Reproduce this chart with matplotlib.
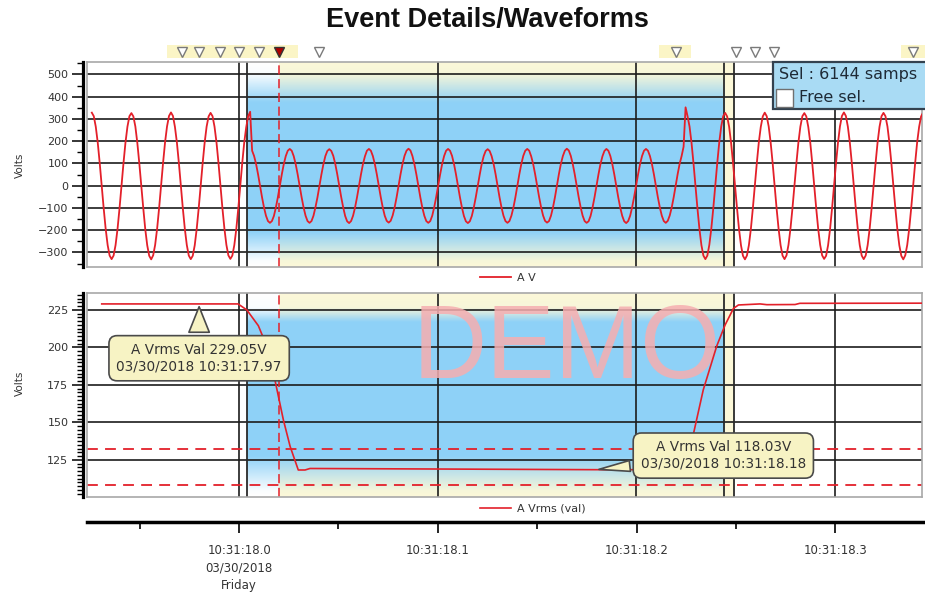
import numpy as np
import matplotlib.pyplot as plt
from matplotlib.patches import Rectangle
from matplotlib.ticker import MultipleLocator
from matplotlib.transforms import blended_transform_factory

# times are ms after 10:31:18.000, one row per cycle of the A phase
wave_start = -74.1
wave_step = 0.996
wave_v = [
    328, 312, 265, 193, 101, 0, -102, -194, -267, -314, -330, -314, -267, -194, -102, 1, 101, 193, 265, 312,
    326, 311, 266, 192, 100, -1, -101, -195, -268, -315, -331, -313, -266, -193, -101, 0, 102, 194, 266, 313,
    329, 313, 264, 193, 101, 0, -103, -194, -267, -314, -330, -315, -268, -194, -102, -1, 100, 192, 265, 311,
    327, 312, 265, 194, 102, 1, -102, -193, -266, -313, -329, -314, -267, -195, -103, 0, 101, 193, 262, 312,
    332, 157, 133, 97, 51, 0, -52, -98, -135, -159, -167, -159, -136, -98, -52, 0, 51, 97, 133, 157,
    165, 157, 133, 97, 51, 0, -52, -98, -135, -159, -167, -159, -135, -97, -53, 0, 50, 96, 133, 156,
    164, 156, 134, 98, 52, 1, -51, -97, -136, -160, -168, -159, -135, -98, -52, 0, 51, 97, 132, 157,
    165, 157, 133, 97, 51, 0, -52, -98, -135, -158, -166, -158, -134, -98, -52, 1, 52, 98, 134, 157,
    166, 158, 133, 96, 50, -1, -53, -99, -135, -159, -167, -159, -135, -97, -51, 0, 51, 97, 133, 157,
    165, 157, 134, 97, 51, 0, -52, -98, -136, -160, -168, -160, -136, -98, -52, 0, 50, 97, 133, 156,
    164, 156, 133, 98, 52, 0, -52, -98, -135, -159, -167, -159, -135, -99, -53, 0, 51, 97, 134, 157,
    165, 157, 132, 97, 51, 0, -51, -97, -134, -158, -166, -159, -135, -98, -52, 1, 52, 98, 133, 157,
    166, 158, 134, 97, 51, 0, -52, -98, -135, -159, -167, -160, -136, -98, -52, 0, 51, 97, 132, 156,
    165, 157, 133, 96, 50, -1, -53, -99, -136, -160, -168, -159, -135, -97, -51, 0, 51, 97, 133, 157,
    165, 157, 133, 97, 51, 0, -52, -98, -135, -159, -167, -158, -134, -98, -52, 0, 52, 98, 133, 175,
    352, 312, 266, 193, 101, 0, -102, -194, -267, -314, -330, -314, -266, -193, -102, 0, 101, 193, 265, 312,
    327, 311, 265, 192, 100, -1, -102, -195, -268, -315, -331, -314, -267, -194, -101, 0, 102, 194, 264, 311,
    328, 312, 266, 193, 101, 0, -103, -194, -267, -314, -330, -313, -266, -193, -102, 1, 101, 193, 265, 312,
    326, 311, 264, 194, 102, 1, -101, -193, -266, -313, -329, -315, -268, -195, -103, 0, 100, 192, 266, 313,
    329, 313, 265, 193, 101, 0, -102, -194, -267, -314, -330, -314, -267, -194, -102, 0, 101, 193, 265, 312,
    327, 312, 266, 192, 100, -1, -102, -195, -268, -315, -331, -313, -266, -193, -101, 0, 102, 194, 264, 311,
    328,
]

vrms_t = [-69.1, -0.5, 3.9, 9.7, 13.9, 18.1, 22.3, 25.7, 29.8, 33.2, 35.7, 179.7,
          223.5, 228.6, 233.6, 240.4, 244.6, 248.8, 251.3, 262.2, 265.6, 279.8, 282.2, 343.6]
vrms_v = [229.0, 229.0, 225.0, 214.5, 201.0, 178.0, 151.7, 134.0, 118.3, 118.3, 119.3, 118.5,
          118.5, 142.0, 171.7, 201.0, 215.0, 226.0, 228.3, 229.0, 228.5, 228.6, 229.4, 229.5]
limits_v = [132.5, 108.0]

tick_t = [0, 100, 200, 300]
tick_labels = ["10:31:18.0\n03/30/2018\nFriday", "10:31:18.1", "10:31:18.2", "10:31:18.3"]

event_t = [-28.8, -20.0, -9.6, -0.2, 10.2, 40.4, 219.8, 250.0, 259.7, 269.2, 339.1]
event_active = 20.3
event_bands = [(-36.2, 29.7), (211.5, 227.5), (333.0, 346.0)]

cursor_t = [3.9, 244.2, 249.1]
sel_t = (3.9, 244.2)
marked_t = (20.3, 249.1)

callout_pts = [(-20.1, 229.0), (179.7, 118.5)]
callout_text = ["A Vrms Val 229.05V\n03/30/2018 10:31:17.97",
                "A Vrms Val 118.03V\n03/30/2018 10:31:18.18"]

XL = (-76.5, 343.7)
RED = '#e3202a'
BLUE = (0.56, 0.82, 0.97)
CREAM = '#fcf8d8'
FRAME = '#a8a8a8'


def style_axes(ax, ylim, major, minor, fade):
    ax.axvspan(*marked_t, color=CREAM, lw=0, zorder=0.1)
    # selection shading fades out at top and bottom
    pos = np.linspace(0, 1, 300)
    img = np.zeros((300, 1, 4))
    img[..., :3] = BLUE
    img[:, 0, 3] = np.interp(pos, fade, [0, 0.05, 1, 1, 0.05, 0])
    ax.imshow(img, extent=(sel_t[0], sel_t[1], ylim[0], ylim[1]), origin='lower',
              aspect='auto', zorder=0.2, interpolation='bilinear')
    for t in cursor_t:
        ax.axvline(t, color='#2a2a2a', lw=1.3, zorder=1)
    ax.axvline(event_active, color=RED, lw=1.1, ls=(0, (6, 3)), zorder=1)

    ax.set_xlim(*XL)
    ax.set_ylim(*ylim)
    ax.set_xticks(tick_t)
    ax.set_xticklabels([])
    ax.tick_params(axis='x', length=0)
    ax.yaxis.set_major_locator(MultipleLocator(major))
    ax.yaxis.set_minor_locator(MultipleLocator(minor))
    ax.grid(True, color='#1c1c1c', lw=1.2)
    ax.set_axisbelow(True)
    for s in ['top', 'right', 'bottom']:
        ax.spines[s].set_color(FRAME)
        ax.spines[s].set_linewidth(1.2)
    ax.spines['left'].set_position(('outward', 2.7))
    ax.spines['left'].set_linewidth(2.3)
    ax.plot([0, 0], [0, 1], transform=ax.transAxes, color=FRAME, lw=1.2, clip_on=False)
    ax.tick_params(axis='y', which='major', length=7.7, width=1.1, pad=3,
                   labelsize=8, labelcolor='#333333')
    ax.tick_params(axis='y', which='minor', length=4, width=1.0)


def main():
    fig = plt.figure(figsize=(9.25, 5.92), dpi=100)
    ax1 = fig.add_axes([0.0941, 0.5495, 0.9027, 0.3463])
    ax2 = fig.add_axes([0.0941, 0.1610, 0.9027, 0.3436])

    style_axes(ax1, (-364, 557), 100, 50, [0, 0.03, 0.17, 0.80, 0.94, 1.0])
    style_axes(ax2, (100.5, 236.1), 25, 2.5, [0, 0.03, 0.2, 0.86, 0.93, 1.0])

    wave_t = wave_start + wave_step * np.arange(len(wave_v))
    ax1.plot(wave_t, wave_v, color=RED, lw=1.3, zorder=3, label='A V')
    ax2.plot(vrms_t, vrms_v, color=RED, lw=1.2, zorder=3, label='A Vrms (val)')
    for v in limits_v:
        ax2.axhline(v, color=RED, lw=1.3, ls=(0, (6, 4)), zorder=1.5)

    ax2.text(164.6, 179.5, 'DEMO', fontsize=74, family='Liberation Sans', color='#f6aeb0',
             alpha=0.85, ha='center', va='baseline', zorder=2)

    for (t, v), txt, pos, tw in zip(callout_pts, callout_text,
                                    [(-20.1, 192.8), (243.7, 127.9)], [1.5, 0.8]):
        ax2.annotate(txt, xy=(t, v), xytext=pos, ha='center', va='center',
                     fontsize=9.8, color='#333333', zorder=5,
                     bbox=dict(boxstyle='round,pad=0.55,rounding_size=0.6',
                               fc='#f7f3c4', ec='#4a4a4a', lw=1.2),
                     arrowprops=dict(arrowstyle='wedge,tail_width=%s,shrink_factor=0.5' % tw,
                                     fc='#f7f3c4', ec='#4a4a4a', lw=1.2))

    for ax, y in [(ax1, -0.055), (ax2, -0.0605)]:
        ax.legend(loc='center left', bbox_to_anchor=(0.4707, y), frameon=False, fontsize=8,
                  handlelength=2.8, handletextpad=0.5, borderpad=0, borderaxespad=0,
                  labelcolor='#333333')

    # event markers above the waveform
    trans = blended_transform_factory(ax1.transData, ax1.transAxes)
    for a, b in event_bands:
        ax1.add_patch(Rectangle((a, 1.018), b - a, 0.063, transform=trans, color='#fbf5c6',
                                lw=0, clip_on=False))
    ax1.plot(event_t, np.full(len(event_t), 1.049), 'v', transform=trans, ms=7, mfc='white',
             mec='#7a7a7a', mew=1, clip_on=False)
    ax1.plot([event_active], [1.049], 'v', transform=trans, ms=7, mfc='#b00000', mec='#333333',
             mew=1, clip_on=False)

    # time axis
    ax3 = fig.add_axes([0.0941, 0.1182, 0.906, 0.0001])
    ax3.set_xlim(-76.5, 345.2)
    ax3.set_yticks([])
    for s in ['top', 'left', 'right']:
        ax3.spines[s].set_visible(False)
    ax3.spines['bottom'].set_linewidth(2.5)
    ax3.set_xticks(tick_t)
    ax3.set_xticklabels(tick_labels)
    ax3.xaxis.set_minor_locator(MultipleLocator(50))
    ax3.tick_params(axis='x', which='major', length=8, width=1.2, pad=8, labelsize=8.5,
                    labelcolor='#333333')
    ax3.tick_params(axis='x', which='minor', length=5, width=1.2)
    for lab in ax3.get_xticklabels():
        lab.set_linespacing(1.45)

    fig.text(487 / 925, 1 - 20 / 592, 'Event Details/Waveforms', ha='center', va='center',
             fontsize=19.5, fontweight='bold', family='Liberation Sans', color='#111111')
    fig.text(20 / 925, 0.721, 'Volts', rotation=90, ha='center', va='center', fontsize=7.5,
             color='#333333')
    fig.text(20 / 925, 0.353, 'Volts', rotation=90, ha='center', va='center', fontsize=7.5,
             color='#333333')

    # selection info box
    fig.add_artist(Rectangle((773 / 925, 1 - 109 / 592), 160 / 925, 46.7 / 592,
                             transform=fig.transFigure, fc='#a9dbf4', ec='#33414f', lw=1.6,
                             zorder=5))
    fig.add_artist(Rectangle((776 / 925, 1 - 107 / 592), 17 / 925, 18 / 592,
                             transform=fig.transFigure, fc='white', ec='#707070', lw=1,
                             zorder=6))
    fig.text(779 / 925, 1 - 75 / 592, 'Sel : 6144 samps', va='center', fontsize=11.5,
             color='#1e2a36', zorder=7)
    fig.text(799 / 925, 1 - 98 / 592, 'Free sel.', va='center', fontsize=11.5,
             color='#1e2a36', zorder=7)

    fig.savefig('out.png', dpi=100)


if __name__ == "__main__":
    main()
